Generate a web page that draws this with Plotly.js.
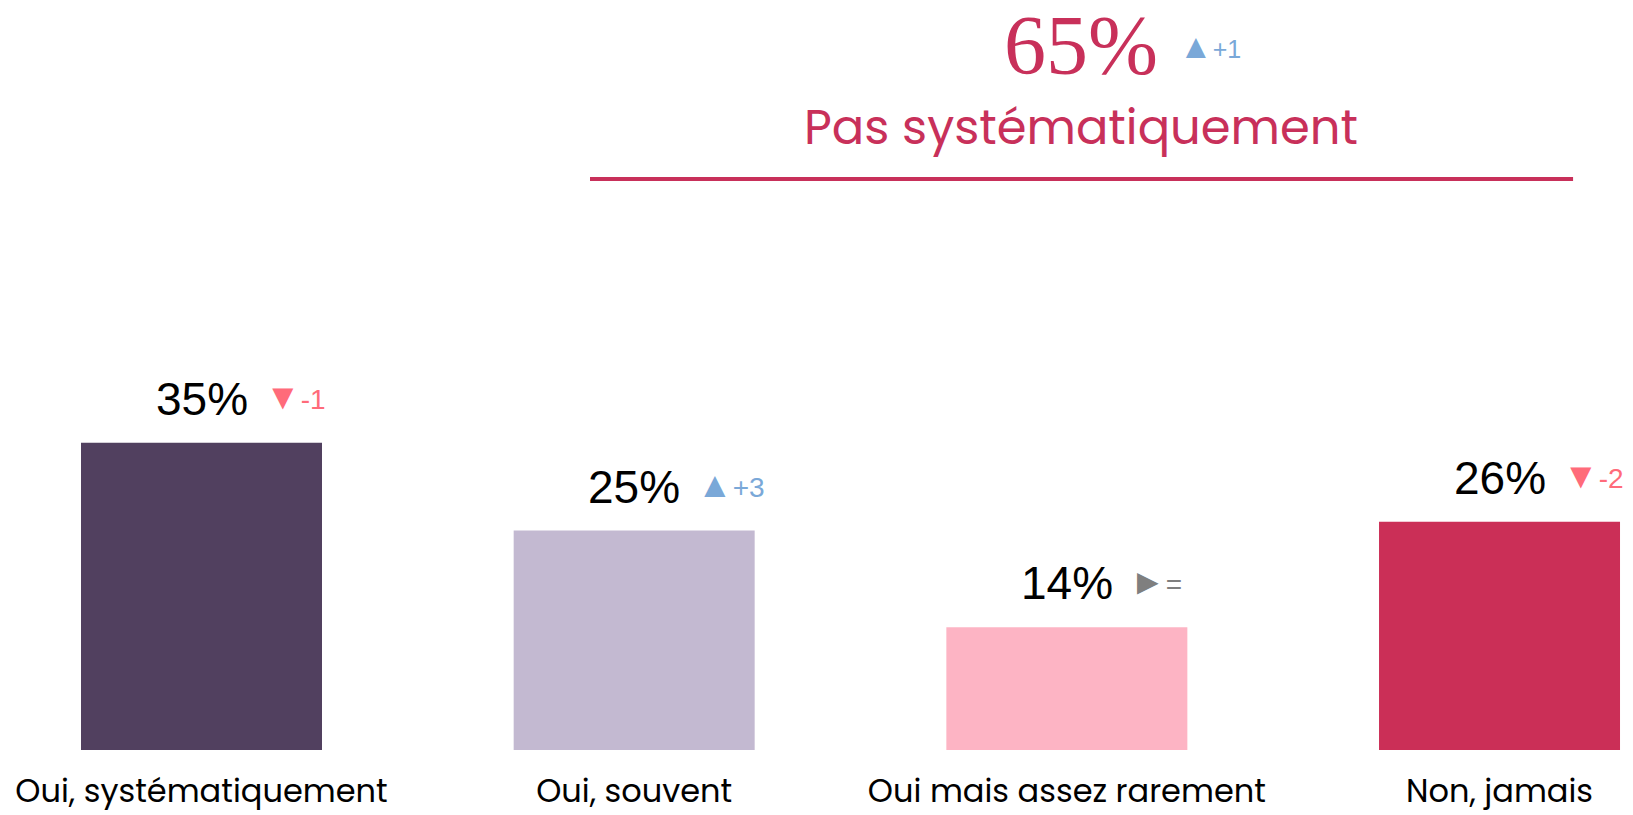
<!DOCTYPE html>
<html>
<head>
<meta charset="utf-8">
<script src="https://cdn.plot.ly/plotly-3.0.1.min.js"></script>
<style>
  html, body { margin: 0; padding: 0; background: #ffffff; }
  #chart { width: 1633px; height: 815px; }
</style>
</head>
<body>
<div id="chart"></div>
<script>
var categories = ["Oui, systématiquement", "Oui, souvent", "Oui mais assez rarement", "Non, jamais"];
var values = [35, 25, 14, 26];
var deltas = ["-1", "+3", "=", "-2"];
var barColors = ["#51405f", "#c3b9d1", "#fdb4c4", "#cb2f57"];

var totalValue = 65;
var totalDelta = "+1";
var totalLabel = "Pas systématiquement";

var crimson = "#c8305a";
var upColor = "#7aa8d8";
var downColor = "#ff6b7a";
var eqColor = "#7f7f7f";

function deltaStyle(d) {
	if (d.charAt(0) == "+") return {sym: "▲", color: upColor};
	if (d.charAt(0) == "-") return {sym: "▼", color: downColor};
	return {sym: "►", color: eqColor};
}

var bars = {
	type: "bar",
	x: categories,
	y: values,
	width: 0.557,
	marker: {color: barColors},
	hoverinfo: "none"
};

var annotations = [];

for (var i = 0; i < categories.length; i++) {
	// value above bar
	annotations.push({
		x: categories[i],
		y: values[i],
		xref: "x",
		yref: "y",
		text: values[i] + "%",
		showarrow: false,
		xanchor: "center",
		yanchor: "middle",
		yshift: 44,
		font: {family: "Liberation Sans, Arial", size: 46, color: "#000000"}
	});
	// evolution marker
	var ds = deltaStyle(deltas[i]);
	annotations.push({
		x: categories[i],
		y: values[i],
		xref: "x",
		yref: "y",
		text: "<span style='font-size:36px'>" + ds.sym + "</span>" + deltas[i],
		showarrow: false,
		xanchor: "left",
		yanchor: "middle",
		xshift: 61,
		yshift: 46,
		font: {family: "Liberation Sans, Arial", size: 28, color: ds.color}
	});
}

// total block on top
annotations.push({
	x: 0.662, y: 0.94, xref: "paper", yref: "paper",
	text: totalValue + "%",
	showarrow: false, xanchor: "center", yanchor: "middle",
	font: {family: "Liberation Serif, Times New Roman, serif", size: 84, color: crimson}
});
annotations.push({
	x: 0.7208, y: 0.939, xref: "paper", yref: "paper",
	text: "<span style='font-size:34px'>▲</span>" + totalDelta,
	showarrow: false, xanchor: "left", yanchor: "middle",
	font: {family: "Liberation Sans, Arial", size: 25, color: upColor}
});
annotations.push({
	x: 0.662, y: 0.83, xref: "paper", yref: "paper",
	text: totalLabel,
	showarrow: false, xanchor: "center", yanchor: "middle",
	font: {family: "Poppins, Inter, sans-serif", size: 48, color: crimson}
});

var layout = {
	width: 1633,
	height: 815,
	paper_bgcolor: "#ffffff",
	plot_bgcolor: "#ffffff",
	showlegend: false,
	margin: {l: 0, r: 0, t: 0, b: 65, pad: 0},
	xaxis: {
		range: [-0.4657, 3.3085],
		showgrid: false,
		zeroline: false,
		showline: false,
		ticks: "",
		ticklabelstandoff: 19,
		tickfont: {family: "Poppins, Inter, sans-serif", size: 32, color: "#000000"},
		fixedrange: true
	},
	yaxis: {
		range: [0, 85.47],
		visible: false,
		fixedrange: true
	},
	shapes: [{
		type: "line",
		xref: "paper", yref: "paper",
		x0: 0.3613, x1: 0.9633, y0: 0.7613, y1: 0.7613,
		line: {color: crimson, width: 4}
	}],
	annotations: annotations
};

Plotly.newPlot("chart", [bars], layout, {displayModeBar: false, staticPlot: true});
</script>
</body>
</html>
